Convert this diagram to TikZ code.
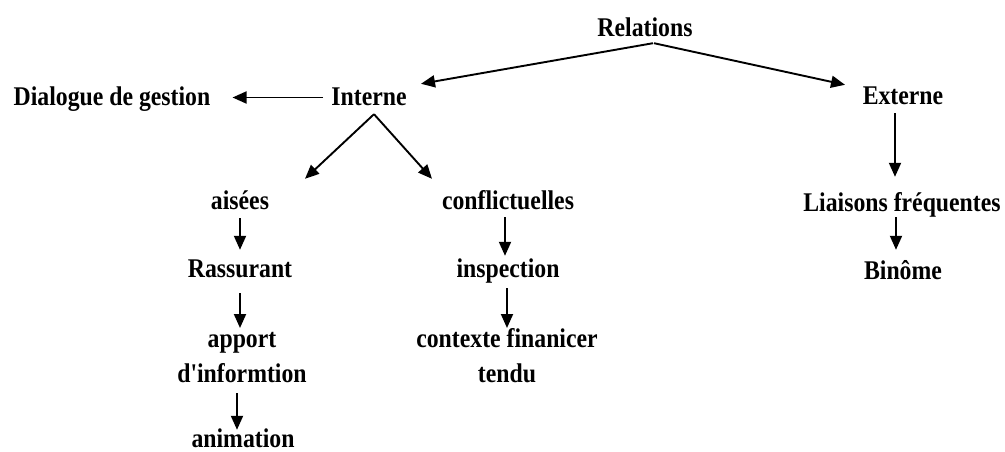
\documentclass[tikz,border=0pt]{standalone}
\usepackage{fontspec}
\newfontfamily\lab[FakeStretch=0.88]{Liberation Serif}
\usetikzlibrary{arrows.meta}
\begin{document}
\begin{tikzpicture}[x=1pt,y=-1pt,
  lbl/.style={font=\lab\bfseries\fontsize{27}{35}\selectfont, inner sep=0pt, text height=19pt, text depth=6pt, anchor=base},
  lbl2/.style={font=\lab\bfseries\fontsize{27}{35}\selectfont, inner sep=0pt, align=center, anchor=north},
  arr/.style={line width=1.9pt, -{Triangle[length=14pt,width=12pt]}}]
\useasboundingbox (0,0) rectangle (1005,452);
\newcommand{\stru}{\rule[-6pt]{0pt}{25pt}}
% nodes
\node[lbl] (relations) at (645,37) {Relations};
\node[lbl] (interne) at (369,106) {Interne};
\node[lbl] (dialogue) at (112,106) {Dialogue de gestion};
\node[lbl] (externe) at (903,105) {Externe};
\node[lbl] (aisees) at (240,209) {aisées};
\node[lbl] (confl) at (508,209) {conflictuelles};
\node[lbl] (rassurant) at (240,277) {Rassurant};
\node[lbl] (inspection) at (508,277) {inspection};
\node[lbl2] (apport) at (242,328) {\stru apport\\\stru d'informtion};
\node[lbl2] (contexte) at (507,328) {\stru contexte finanicer\\\stru tendu};
\node[lbl] (animation) at (243,447) {animation};
\node[lbl] (liaisons) at (902,211) {Liaisons fréquentes};
\node[lbl] (binome) at (903,279) {Binôme};
% connectors
\draw[arr] ([xshift=8pt]relations.south) -- ([xshift=52pt,yshift=3pt]interne.north);
\draw[arr] ([xshift=9pt]relations.south) -- ([xshift=-58pt,yshift=1pt]externe.north);
\draw[arr] ([xshift=-8pt,yshift=2pt]interne.west) -- ([xshift=22pt,yshift=2pt]dialogue.east);
\draw[arr] ([xshift=5pt,yshift=-2pt]interne.south) -- ([xshift=65pt,yshift=11pt]aisees.north);
\draw[arr] ([xshift=5pt,yshift=-2pt]interne.south) -- ([xshift=-76pt,yshift=11pt]confl.north);
\draw[arr] ([xshift=-8pt,yshift=-2pt]externe.south) -- ([xshift=-8pt,yshift=15pt]externe.south |- liaisons.north);
\draw[arr] ([yshift=-3pt]aisees.south) -- ([yshift=8pt]aisees.south |- rassurant.north);
\draw[arr] ([yshift=-10pt]rassurant.south) -- (rassurant.south |- apport.north);
\draw[arr] ([xshift=-5pt,yshift=-5pt]apport.south) -- ([xshift=-5pt,yshift=-2pt]apport.south |- animation.north);
\draw[arr] ([xshift=-3pt,yshift=-2pt]confl.south) -- ([xshift=-3pt,yshift=2pt]confl.south |- inspection.north);
\draw[arr] ([xshift=-1pt,yshift=-5pt]inspection.south) -- ([xshift=-1pt]inspection.south |- contexte.north);
\draw[arr] ([xshift=-6pt]liaisons.south) -- ([xshift=-6pt,yshift=10pt]liaisons.south |- binome.north);
\end{tikzpicture}
\end{document}
